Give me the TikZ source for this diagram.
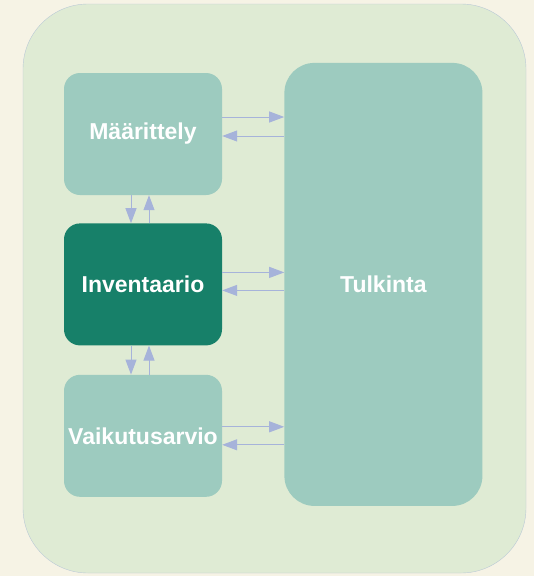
\documentclass[tikz,border=0pt]{standalone}
\usepackage{fontspec}
\setmainfont{Liberation Sans}
\usepackage{xcolor}
\usetikzlibrary{positioning, arrows.meta}

\definecolor{pagebg}{HTML}{F6F3E5}
\definecolor{framefill}{HTML}{DFEBD4}
\definecolor{frameline}{HTML}{BAC9D6}
\definecolor{stagefill}{HTML}{9DCBBF}
\definecolor{activefill}{HTML}{178069}
\definecolor{linkcol}{HTML}{A6B3DA}

\begin{document}
\begin{tikzpicture}[
            x=1pt, y=-1pt,
            node distance=28pt and 62pt,
            >={Triangle[length=15pt, width=11pt]},
            stage/.style={rectangle, rounded corners=16pt, fill=stagefill, minimum width=158pt,
                    minimum height=122pt, inner sep=0pt, align=center, text=white,
                    font=\fontsize{23}{27}\selectfont\bfseries},
            active/.style={stage, fill=activefill},
            bigstage/.style={stage, rounded corners=30pt, minimum width=198pt, minimum height=443pt},
            link/.style={->, line width=1pt, linkcol},
            ]

            % page and frame
            \useasboundingbox[fill=pagebg] (0,0) rectangle (534,576);
            \draw[frameline, fill=framefill, rounded corners=65pt] (23,4) rectangle (526,573);

            \node[stage] (maar) at (143,134) {Määrittely};
            \node[active, below=28pt of maar] (inv) {Inventaario};
            \node[stage, below=29pt of inv] (vaik) {Vaikutusarvio};
            \node[bigstage, right=62pt of inv] (tulk) {Tulkinta};

            \draw[link] ([yshift=17pt]maar.east) -- ([yshift=17pt]maar.east -| tulk.west);
            \draw[link] ([yshift=-2pt]maar.east -| tulk.west) -- ([yshift=-2pt]maar.east);
            \draw[link] ([yshift=12pt]inv.east) -- ([yshift=12pt]inv.east -| tulk.west);
            \draw[link] ([yshift=-6pt]inv.east -| tulk.west) -- ([yshift=-6pt]inv.east);
            \draw[link] ([yshift=9pt]vaik.east) -- ([yshift=9pt]vaik.east -| tulk.west);
            \draw[link] ([yshift=-9pt]vaik.east -| tulk.west) -- ([yshift=-9pt]vaik.east);

            \draw[link] ([xshift=-12pt]maar.south) -- ([xshift=-12pt]inv.north);
            \draw[link] ([xshift=6pt]inv.north) -- ([xshift=6pt]maar.south);
            \draw[link] ([xshift=-12pt]inv.south) -- ([xshift=-12pt]vaik.north);
            \draw[link] ([xshift=6pt]vaik.north) -- ([xshift=6pt]inv.south);

        \end{tikzpicture}
\end{document}
